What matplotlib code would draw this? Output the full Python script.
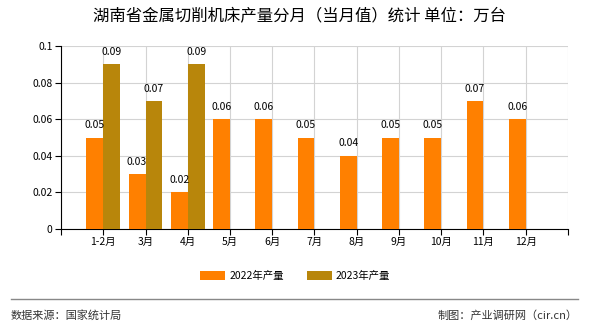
import numpy as np
import matplotlib
matplotlib.use("Agg")
import matplotlib.pyplot as plt

plt.rcParams['font.family'] = ['Noto Sans CJK SC', 'DejaVu Sans']

months = ['1-2月', '3月', '4月', '5月', '6月', '7月', '8月', '9月', '10月', '11月', '12月']
output_2022 = [0.05, 0.03, 0.02, 0.06, 0.06, 0.05, 0.04, 0.05, 0.05, 0.07, 0.06]
output_2023 = [0.09, 0.07, 0.09]
yticks = [0, 0.02, 0.04, 0.06, 0.08, 0.1]
ytick_labels = ['0', '0.02', '0.04', '0.06', '0.08', '0.1']

c2022 = '#ff8000'
c2023 = '#b8860b'

fig = plt.figure(figsize=(5.9, 3.3), dpi=100)
ax = fig.add_axes([0.1034, 0.306, 0.8593, 0.5546])

x = np.arange(len(months))
w = 0.4
b1 = ax.bar(x - w / 2, output_2022, w, color=c2022, label='2022年产量', zorder=3)
x2 = np.arange(len(output_2023))
b2 = ax.bar(x2 + w / 2, output_2023, w, color=c2023, label='2023年产量', zorder=3)

# value labels above each bar
for bars, vals in ((b1, output_2022), (b2, output_2023)):
    for r, v in zip(bars, vals):
        ax.text(r.get_x() + r.get_width() / 2, v + 0.004, '%g' % v,
                ha='center', va='bottom', fontsize=7.5, zorder=4)

ax.set_xlim(-1, len(months))
ax.set_ylim(0, 0.1)
ax.set_xticks(np.arange(-1, len(months) + 1))
ax.set_xticklabels([''] + months + [''], fontsize=7.5)
ax.set_yticks(yticks)
ax.set_yticklabels(ytick_labels, fontsize=7.5)
ax.grid(True, color='#d3d3d3', linewidth=0.8, zorder=0)
ax.tick_params(length=4, width=0.8, color='black', pad=2)
for s in ('top', 'right'):
    ax.spines[s].set_visible(False)
for s in ('left', 'bottom'):
    ax.spines[s].set_color('black')
    ax.spines[s].set_linewidth(0.8)

fig.text(0.508, 0.948, '湖南省金属切削机床产量分月（当月值）统计 单位：万台',
         ha='center', va='center', fontsize=11.8)

fig.legend(handles=[b1, b2], loc='center', bbox_to_anchor=(0.5, 0.163), ncol=2,
           frameon=False, fontsize=7.5, handlelength=2.4, handleheight=0.9,
           columnspacing=2.2, handletextpad=0.4)

fig.add_artist(plt.Line2D([0.018, 0.979], [0.095, 0.095], color='#888888', linewidth=1.0))
fig.text(0.018, 0.045, '数据来源：国家统计局', ha='left', va='center', fontsize=8, color='#333333')
fig.text(0.979, 0.045, '制图：产业调研网（cir.cn）', ha='right', va='center', fontsize=8, color='#333333')

fig.savefig('out.png', dpi=100)
